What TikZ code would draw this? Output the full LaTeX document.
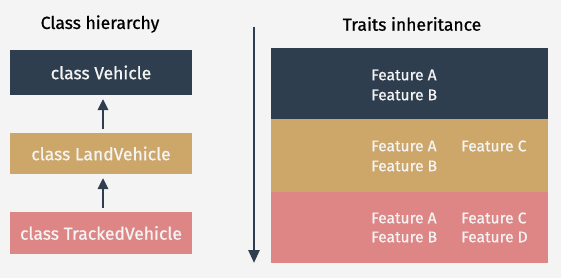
\documentclass[tikz,border=0pt]{standalone}
\usepackage{fontspec}
\setmainfont{Fira Sans}[FakeBold=0.8]
\usetikzlibrary{arrows.meta}
\definecolor{bg}{HTML}{F4F4F4}
\definecolor{dark}{HTML}{2E3E4F}
\definecolor{gold}{HTML}{CDA66A}
\definecolor{pink}{HTML}{DE8686}
\definecolor{txt}{HTML}{F4F4F4}
\begin{document}
\begin{tikzpicture}[x=1pt,y=-1pt,
  box/.style={inner sep=0pt,outer sep=0pt,text=txt,font=\fontsize{17.5}{20}\selectfont},
  title/.style={inner sep=0pt,font=\fontsize{17.5}{20}\selectfont,text=black},
  feat/.style={inner sep=0pt,anchor=west,text=txt,font=\fontsize{15.5}{18}\selectfont},
  arr/.style={draw=dark,line width=2.6pt,-{Triangle[length=11pt,width=10pt]}},
  varr/.style={draw=dark,line width=2.6pt,-{Triangle[length=13pt,width=11pt]}}]
\fill[bg] (0,0) rectangle (561,278);
\useasboundingbox (0,0) rectangle (561,278);
\node[title] (t1) at (100,24) {Class hierarchy};
\node[title] (t2) at (412,24) {Traits inheritance};
% left boxes
\fill[dark] (10,50) rectangle (192,95);
\node[box] (veh) at (101,72.5) {class Vehicle};
\fill[gold] (10,133) rectangle (192,174);
\node[box] (land) at (101,153.5) {class LandVehicle};
\fill[pink] (10,212) rectangle (192,254);
\node[box] (track) at (101,233) {class TrackedVehicle};
\coordinate (vb) at (103,99);
\coordinate (lt) at (103,129);
\coordinate (lb) at (103,178);
\coordinate (tt) at (103,208);
\draw[arr] (lt) -- (vb);
\draw[arr] (tt) -- (lb);
% vertical arrow
\coordinate (vs) at (254,27);
\coordinate (ve) at (254,263);
\draw[varr] (vs) -- (ve);
% right boxes
\fill[dark] (271,48) rectangle (548,119);
\fill[gold] (271,119) rectangle (548,192);
\fill[pink] (271,192) rectangle (548,263);
\node[feat] (d1) at (371,75) {Feature A};
\node[feat] (d2) at (371,95) {Feature B};
\node[feat] (g1) at (371,146) {Feature A};
\node[feat] (g2) at (371,166) {Feature B};
\node[feat] (g3) at (461,146) {Feature C};
\node[feat] (p1) at (371,218) {Feature A};
\node[feat] (p2) at (371,237) {Feature B};
\node[feat] (p3) at (461,218) {Feature C};
\node[feat] (p4) at (461,237) {Feature D};
\end{tikzpicture}
\end{document}
